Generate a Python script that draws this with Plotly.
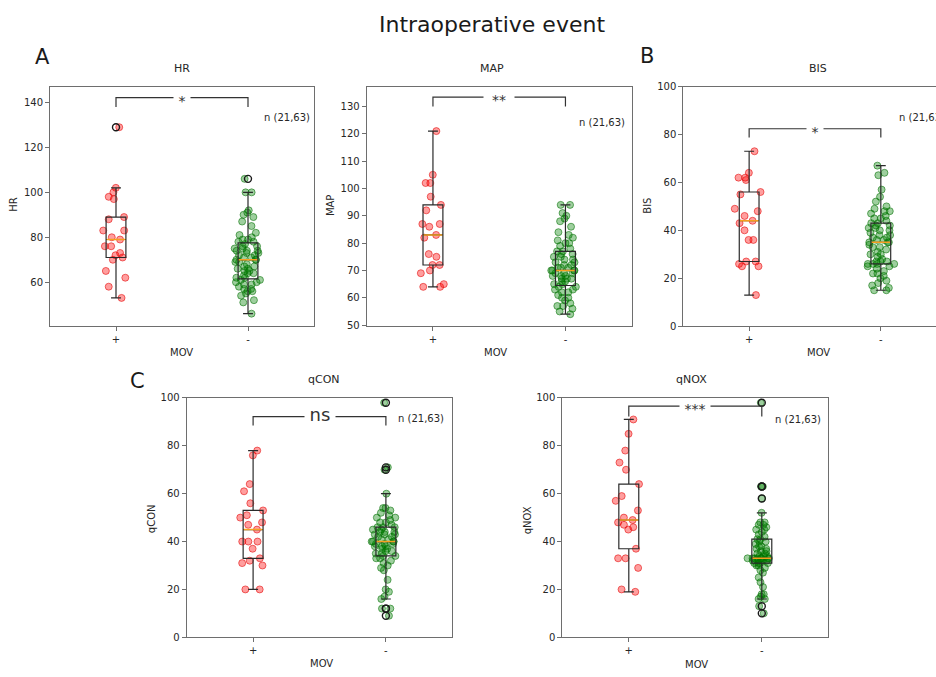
import numpy as np
import plotly.graph_objects as go

# ---------------- data ----------------
groups = ["+", "-"]          # MOV+ (n=21), MOV- (n=63)

hr_pos = [53, 58, 62, 65, 70, 71, 72, 73, 76, 76, 79, 80, 83, 83, 88, 89, 97, 98, 100, 102, 129]
hr_neg = [46, 51, 52, 54, 55, 56, 56, 57, 57, 58, 59, 59, 60, 60, 61, 61,
          62, 62, 63, 64, 64, 65, 65, 66, 66, 67, 67, 68, 69, 69, 70,
          70,
          70, 71, 71, 72, 72, 73, 73, 74, 74, 74, 75, 75, 76, 76, 77,
          78, 78, 79, 79, 80, 81, 82, 85, 87, 89, 90, 91, 92, 100, 100, 106]

map_pos = [64, 64, 65, 69, 70, 72, 72, 75, 76, 82, 83, 86, 87, 87, 92, 94, 97, 102, 102, 105, 121]
map_neg = [54, 55, 56, 57, 57, 58, 59, 60, 60, 61, 62, 62, 63, 63, 64, 64,
           65, 65, 66, 66, 67, 67, 67, 68, 68, 68, 69, 69, 69, 70, 70,
           70,
           70, 71, 71, 71, 72, 72, 73, 73, 74, 74, 75, 75, 76, 76, 77,
           77, 78, 79, 80, 80, 81, 82, 83, 84, 86, 88, 89, 90, 91, 94, 94]

bis_pos = [13, 25, 25, 26, 27, 27, 36, 36, 40, 43, 44, 46, 48, 49, 55, 56, 61, 62, 62, 64, 73]
bis_neg = [15, 15, 16, 17, 18, 19, 20, 21, 22, 22, 23, 24, 25, 25, 26, 26,
           26, 26, 27, 27, 27, 28, 29, 30, 30, 31, 32, 33, 33, 34, 35,
           35,
           35, 36, 36, 37, 37, 38, 38, 39, 40, 40, 41, 41, 42, 42, 43,
           43, 44, 45, 45, 46, 47, 48, 48, 49, 50, 52, 54, 57, 63, 64, 67]

qcon_pos = [20, 20, 30, 31, 32, 33, 37, 40, 40, 40, 45, 47, 48, 50, 51, 53, 56, 61, 64, 76, 78]
qcon_neg = [9, 12, 12, 16, 17, 19, 20, 24, 28, 29, 30, 31, 32, 33, 33, 34,
            34, 35, 35, 36, 36, 37, 37, 38, 38, 38, 39, 39, 39, 40, 40,
            40,
            40, 41, 41, 42, 42, 43, 43, 43, 44, 44, 44, 45, 45, 46, 46,
            46, 47, 48, 48, 49, 50, 50, 51, 52, 53, 54, 54, 60, 70, 71, 98]

qnox_pos = [19, 20, 29, 33, 33, 37, 45, 46, 47, 48, 49, 50, 53, 57, 59, 64, 70, 73, 78, 85, 91]
qnox_neg = [10, 13, 16, 16, 17, 18, 18, 21, 23, 25, 27, 28, 29, 30, 30, 31,
            31, 31, 31, 32, 32, 32, 32, 32, 33, 33, 33, 33, 33, 33, 33,
            33,
            34, 34, 34, 35, 35, 36, 36, 37, 37, 38, 38, 39, 40, 40, 41,
            41, 42, 43, 44, 45, 45, 46, 47, 47, 48, 48, 52, 58, 63, 63, 98]

names = ["HR", "MAP", "BIS", "qCON", "qNOX"]
sig_labels = ["*", "**", "*", "ns", "***"]
n_label = "n (21,63)"

# ---------------- layout / style ----------------
W, H = 936, 677
FONT = "DejaVu Sans"
TXT = "#262626"
SPINE = "#6e6e6e"
RED_FILL, RED_LINE = "rgba(255,0,0,0.38)", "rgba(225,0,0,0.55)"
GRN_FILL, GRN_LINE = "rgba(0,128,0,0.38)", "rgba(0,110,0,0.55)"

# pixel boxes of each axes: (left, right, top, bottom)
boxes = [(50, 314, 82, 326), (366.7, 631.7, 82, 326), (683.3, 936, 82, 326),
         (186.7, 452.3, 399, 642.7), (562.3, 828.3, 399, 642.7)]
xranges = [[-0.5, 1.5], [-0.5, 1.5], [-0.5, 1.419], [-0.5, 1.5], [-0.5, 1.5]]
yranges = [[40.4, 147.1], [49.6, 137.3], [0, 100], [0, 100], [0, 100]]
yticks = [[60, 80, 100, 120, 140], list(range(50, 131, 10)), list(range(0, 101, 20)),
          list(range(0, 101, 20)), list(range(0, 101, 20))]
# bracket (leg bottom, bar) in data units, and text gap width px
brackets = [(138, 142.2, 12), (130, 133.4, 26), (78.7, 82.4, 12), (88.5, 92.2, 26), (92.2, 96.6, 26)]
sig_size = [14, 14, 14, 18, 14]
title_xy = [(181.7, 64), (491.7, 64), (818.3, 64), (324, 380), (691, 380)]
mov_xy = [(181.7, 353), (495, 353), (818, 353), (321, 669), (696, 670)]
ylab_xy = [(13.3, 202), (330.7, 203), (647.3, 203), (151.7, 521.7), (527.3, 523.3)]
n_xy = [(311.7, 114, "right"), (626.7, 118.3, "right"), (896.7, 114, "left"),
        (446, 420, "right"), (823.3, 420.7, "right")]

def px(x):
    return x / W

def py(y):
    return 1 - y / H

data = [(hr_pos, hr_neg), (map_pos, map_neg), (bis_pos, bis_neg),
        (qcon_pos, qcon_neg), (qnox_pos, qnox_neg)]

fig = go.Figure()
annotations = []
shapes = []
BOXW = 0.15


def paper_text(x, y, text, size, xanchor="center", angle=0, color=TXT):
    return dict(x=px(x), y=py(y), xref="paper", yref="paper", text=text,
                xanchor=xanchor, yanchor="middle", textangle=angle, showarrow=False,
                font=dict(family=FONT, size=size, color=color))


for i, (name, (pos, neg)) in enumerate(zip(names, data)):
    k = "" if i == 0 else str(i + 1)
    xa, ya = "x" + k, "y" + k
    for gi, (vals, fill, edge) in enumerate([(pos, RED_FILL, RED_LINE), (neg, GRN_FILL, GRN_LINE)]):
        # jittered strip points (library jitter)
        fig.add_trace(go.Box(
            y=vals, x0=gi, width=0.27, boxpoints="all", jitter=0.85, pointpos=0,
            line=dict(color="rgba(0,0,0,0)", width=0), fillcolor="rgba(0,0,0,0)",
            marker=dict(color=fill, size=7, line=dict(color=edge, width=1)),
            xaxis=xa, yaxis=ya, hoverinfo="skip", showlegend=False))
        # box with fliers
        fig.add_trace(go.Box(
            y=vals, x0=gi, width=BOXW, boxpoints="outliers", jitter=0, pointpos=0,
            whiskerwidth=0.5, quartilemethod="inclusive",
            line=dict(color="#2a2a2a", width=1.2), fillcolor="rgba(0,0,0,0)",
            marker=dict(symbol="circle-open", color="#1a1a1a", size=7, line=dict(width=1.4)),
            xaxis=xa, yaxis=ya, hoverinfo="skip", showlegend=False))
        med = float(np.median(vals))
        fig.add_trace(go.Scatter(
            x=[gi - BOXW / 2 + 0.005, gi + BOXW / 2 - 0.005], y=[med, med], mode="lines",
            line=dict(color="#f5a020", width=1.5), xaxis=xa, yaxis=ya,
            hoverinfo="skip", showlegend=False))

    l, r, t, b = boxes[i]
    is_bis = name == "BIS"
    fig.update_layout(**{
        "xaxis" + k: dict(domain=[px(l), px(r)], range=xranges[i], anchor=ya,
                          tickvals=[0, 1], ticktext=groups, ticks="outside", ticklen=4,
                          tickcolor=SPINE, showline=True, linecolor=SPINE, linewidth=1,
                          mirror=True, showgrid=False, zeroline=False,
                          tickfont=dict(family=FONT, size=10, color=TXT)),
        "yaxis" + k: dict(domain=[py(b), py(t)], range=yranges[i], anchor=xa,
                          tickvals=yticks[i], ticks="outside", ticklen=4,
                          tickcolor=SPINE, showline=True, linecolor=SPINE, linewidth=1,
                          mirror=not is_bis, showgrid=False, zeroline=False,
                          tickfont=dict(family=FONT, size=10, color=TXT)),
    })

    # significance bracket
    y1, y2, gapw = brackets[i]
    shapes.append(dict(type="path", xref=xa, yref=ya,
                       path=f"M0,{y1} L0,{y2} L1,{y2} L1,{y1}",
                       line=dict(color="#333333", width=1.2)))
    annotations.append(dict(x=0.5, y=y2, xref=xa, yref=ya, text=sig_labels[i],
                            xanchor="center", yanchor="middle",
                            showarrow=False, bgcolor="white", width=gapw, borderpad=2,
                            font=dict(family=FONT, size=sig_size[i], color="#333333"),
                            yshift=-3 if sig_labels[i] != "ns" else 2))
    # texts
    tx, ty = title_xy[i]
    annotations.append(paper_text(tx, ty, name, 11))
    mx, my = mov_xy[i]
    annotations.append(paper_text(mx, my, "MOV", 10))
    lx, ly = ylab_xy[i]
    annotations.append(paper_text(lx, ly, name, 10, angle=-90))
    nx, ny, anc = n_xy[i]
    annotations.append(paper_text(nx, ny, n_label, 10, xanchor=anc))

# figure title and panel letters
annotations.append(paper_text(492, 19, "Intraoperative event", 22, color="#1a1a1a"))
for letter, (lx, ly) in zip(["A", "B", "C"], [(42, 52), (647, 51), (137.5, 382)]):
    annotations.append(paper_text(lx, ly, letter, 21, color="#1a1a1a"))

fig.update_layout(width=W, height=H, margin=dict(l=0, r=0, t=0, b=0),
                  paper_bgcolor="white", plot_bgcolor="white", boxmode="overlay",
                  showlegend=False, annotations=annotations, shapes=shapes)

fig.write_html("out.html")
